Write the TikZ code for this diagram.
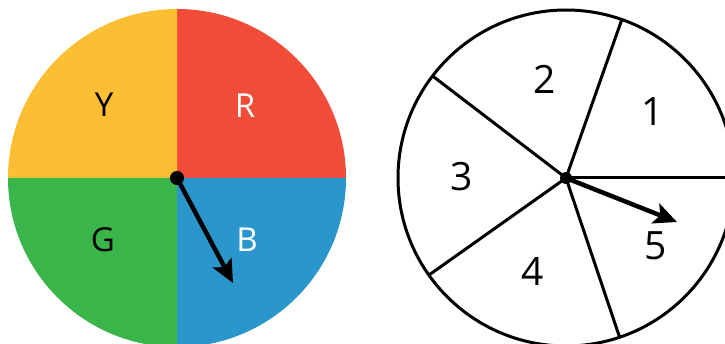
\documentclass[tikz,border=0pt]{standalone}
\usepackage{fontspec}
\setmainfont{Open Sans}
\usepackage{tikz}
\usetikzlibrary{arrows.meta}
\definecolor{spinY}{HTML}{FCBF33}
\definecolor{spinR}{HTML}{F04C38}
\definecolor{spinG}{HTML}{39B54A}
\definecolor{spinB}{HTML}{2B96CC}

\begin{document}
\begin{tikzpicture}[x=1pt,y=1pt,
  hub/.style={circle,fill=black,inner sep=0pt,minimum size=#1},
  pointer/.style={line width=4.5pt,-{Stealth[length=23pt,width=21pt,inset=5pt]}},
  letter/.style={inner sep=0pt,font=\fontsize{33}{40}\selectfont},
  digit/.style={inner sep=0pt,font=\fontsize{39}{46}\selectfont}]
\useasboundingbox (0,0) rectangle (725,343);
\clip (0,0) rectangle (725,343);
% colour spinner
\fill[spinR] (177,165) -- ++(0:169) arc (0:90:169) -- cycle;
\fill[spinY] (177,165) -- ++(90:169) arc (90:180:169) -- cycle;
\fill[spinG] (177,165) -- ++(180:169) arc (180:270:169) -- cycle;
\fill[spinB] (177,165) -- ++(270:169) arc (270:360:169) -- cycle;
\node[letter] (lY) at (104,238) {Y};
\node[letter,white] (lR) at (245,237) {R};
\node[letter] (lG) at (103,103) {G};
\node[letter,white] (lB) at (247,103) {B};
\node[hub=14pt] (hubL) at (177,165) {};
\coordinate (tipL) at (233,60);
\draw[pointer] (hubL.center) -- (tipL);
% number spinner
\draw[line width=3pt] (566,165) circle (168);
\foreach \a in {0,70.6,142.6,215.3,288.6}
  \draw[line width=3pt] (566,165) -- ++(\a:168);
\node[digit] (n1) at (652.5,231) {1};
\node[digit] (n2) at (544.5,264) {2};
\node[digit] (n3) at (461.7,166) {3};
\node[digit] (n4) at (532.5,71) {4};
\node[digit] (n5) at (656,97) {5};
\node[hub=12pt] (hubR) at (566,165) {};
\coordinate (tipR) at (677,121);
\draw[pointer] (hubR.center) -- (tipR);
\end{tikzpicture}
\end{document}
